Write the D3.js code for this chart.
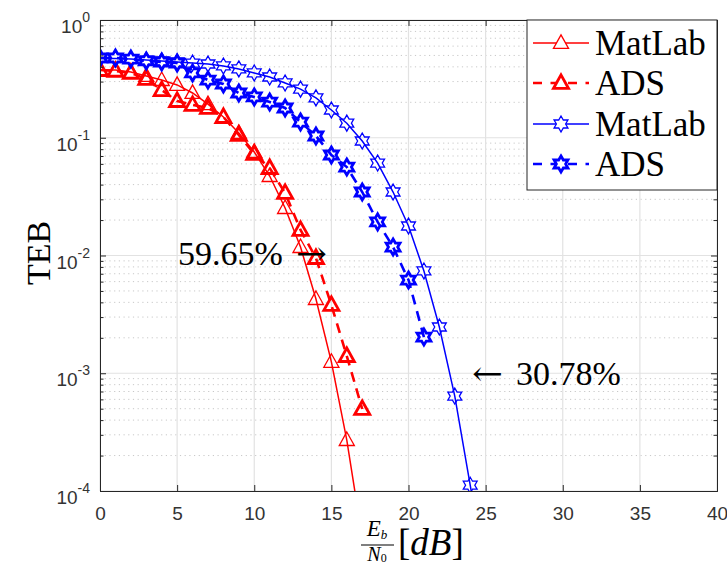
<!DOCTYPE html>
<html>
<head>
<meta charset="utf-8">
<script src="https://cdn.jsdelivr.net/npm/d3@7"></script>
<style>
  html, body { margin: 0; padding: 0; background: #fff; }
  svg { display: block; }
</style>
</head>
<body>
<svg id="chart" width="727" height="567"></svg>
<script>
// ---------------- data ----------------
const xTicks = [0, 5, 10, 15, 20, 25, 30, 35, 40];
const yTickExps = [0, -1, -2, -3, -4];

const redMatlabX = [0,1,2,3,4,5,6,7,8,9,10,11,12,13,14,15,16,17];
const redMatlabY = [0.376,0.376,0.362,0.335,0.309,0.281,0.240,0.193,0.150,0.110,0.0757,0.0473,0.0253,0.0118,0.00427,0.00125,0.000271,0.00004];

const redAdsX = [0,1,2,3,4,5,6,7,8,9,10,11,12,13,14,15,16,17];
const redAdsY = [0.376,0.369,0.355,0.316,0.254,0.205,0.190,0.179,0.150,0.1055,0.0728,0.0553,0.034,0.0165,0.00952,0.0038,0.0014,0.000497];

const blueMatlabX = [0,1,2,3,4,5,6,7,8,9,10,11,12,13,14,15,16,17,18,19,20,21,22,23,24,25];
const blueMatlabY = [0.470,0.470,0.466,0.457,0.449,0.440,0.431,0.423,0.407,0.384,0.355,0.328,0.292,0.259,0.218,0.172,0.133,0.0938,0.061,0.0346,0.0178,0.00739,0.00247,0.00064,0.000112,0.00002];

const blueAdsX = [0,1,2,3,4,5,6,7,8,9,10,11,12,13,14,15,16,17,18,19,20,21];
const blueAdsY = [0.476,0.476,0.466,0.449,0.440,0.431,0.355,0.309,0.286,0.240,0.222,0.201,0.179,0.136,0.1035,0.0714,0.0564,0.0346,0.0193,0.0118,0.00619,0.00203];

const seriesLabels = ["MatLab", "ADS", "MatLab", "ADS"];
const annotationTexts = ["59.65%", "30.78%"];
const arrowGlyphs = ["\u2192", "\u2190"];
const xLabelParts = ["E", "b", "N", "0", "[dB]"];
const yLabelText = "TEB";

// ---------------- layout ----------------
const svg = d3.select("#chart");
const M = { left: 100, right: 717, top: 20, bottom: 491 };
const x = d3.scaleLinear().domain([0, 40]).range([M.left, M.right]);
const y = d3.scaleLog().domain([1e-4, 1]).range([M.bottom, M.top]);

const axisColor = "#262626";
const tickTextColor = "#333333";
const serif = "'Liberation Serif', 'DejaVu Serif', serif";
const sans = "'Liberation Sans', Arial, sans-serif";

// grid
const grid = svg.append("g");
const minorY = [];
for (let e = -4; e < 0; e++) for (let k = 2; k <= 9; k++) minorY.push(k * Math.pow(10, e));
grid.selectAll(".minor").data(minorY).enter().append("line")
  .attr("x1", M.left).attr("x2", M.right)
  .attr("y1", d => y(d)).attr("y2", d => y(d))
  .attr("stroke", "#c8c8c8").attr("stroke-width", 1).attr("stroke-dasharray", "1.2,3.5");
grid.selectAll(".majY").data(yTickExps.map(e => Math.pow(10, e))).enter().append("line")
  .attr("x1", M.left).attr("x2", M.right)
  .attr("y1", d => y(d)).attr("y2", d => y(d))
  .attr("stroke", "#e2e2e2").attr("stroke-width", 1.2);
grid.selectAll(".majX").data(xTicks).enter().append("line")
  .attr("x1", d => x(d)).attr("x2", d => x(d))
  .attr("y1", M.top).attr("y2", M.bottom)
  .attr("stroke", "#e2e2e2").attr("stroke-width", 1.2);

// ---------------- markers ----------------
function triPath(s) {
  return `M0,${-s*0.62}L${s*0.58},${s*0.42}L${-s*0.58},${s*0.42}Z`;
}
function hexPath(R) {
  const r = R / Math.sqrt(3);
  const pts = [];
  for (let k = 0; k < 12; k++) {
    const a = (-90 + k * 30) * Math.PI / 180;
    const rr = k % 2 === 0 ? R : r;
    pts.push([rr * Math.cos(a), rr * Math.sin(a)]);
  }
  return "M" + pts.map(p => p[0].toFixed(2) + "," + p[1].toFixed(2)).join("L") + "Z";
}

const series = [
  { xs: redMatlabX, ys: redMatlabY, color: "#ff0000", dash: null, lw: 1.5, marker: triPath(13), mw: 1.3 },
  { xs: redAdsX, ys: redAdsY, color: "#ff0000", dash: "10,7", lw: 2.6, marker: triPath(13), mw: 2.8 },
  { xs: blueMatlabX, ys: blueMatlabY, color: "#0000ff", dash: null, lw: 1.5, marker: hexPath(8), mw: 1.3 },
  { xs: blueAdsX, ys: blueAdsY, color: "#0000ff", dash: "10,7", lw: 2.6, marker: hexPath(8), mw: 2.8 }
];

svg.append("clipPath").attr("id", "plotClip").append("rect")
  .attr("x", M.left).attr("y", M.top).attr("width", M.right - M.left).attr("height", M.bottom - M.top);

const plot = svg.append("g").attr("clip-path", "url(#plotClip)");
const line = d3.line().x(d => x(d[0])).y(d => y(d[1]));
series.forEach(s => {
  const pts = s.xs.map((v, i) => [v, s.ys[i]]);
  const g = plot.append("g");
  g.append("path").datum(pts).attr("d", line)
    .attr("fill", "none").attr("stroke", s.color).attr("stroke-width", s.lw)
    .attr("stroke-dasharray", s.dash);
  g.selectAll("path.m").data(pts).enter().append("path").attr("class", "m")
    .attr("d", s.marker)
    .attr("transform", d => `translate(${x(d[0])},${y(d[1])})`)
    .attr("fill", "none").attr("stroke", s.color).attr("stroke-width", s.mw)
    .attr("stroke-linejoin", "miter");
});

// ---------------- axes ----------------
const xAxisB = d3.axisBottom(x).tickValues(xTicks).tickSize(-6).tickPadding(16).tickFormat(d3.format("d"));
const gxb = svg.append("g").attr("transform", `translate(0,${M.bottom})`).call(xAxisB);
gxb.selectAll("text").attr("font-family", sans).attr("font-size", 19).attr("fill", tickTextColor);
const xAxisT = d3.axisTop(x).tickValues(xTicks).tickSize(-6).tickFormat("");
const gxt = svg.append("g").attr("transform", `translate(0,${M.top})`).call(xAxisT);

const yAxisL = d3.axisLeft(y).tickValues(yTickExps.map(e => Math.pow(10, e))).tickSize(-6).tickFormat("");
const gyl = svg.append("g").attr("transform", `translate(${M.left},0)`).call(yAxisL);
const yAxisR = d3.axisRight(y).tickValues(yTickExps.map(e => Math.pow(10, e))).tickSize(-6).tickFormat("");
const gyr = svg.append("g").attr("transform", `translate(${M.right},0)`).call(yAxisR);
const yMinL = d3.axisLeft(y).tickValues(minorY).tickSize(-3.5).tickFormat("");
const gyml = svg.append("g").attr("transform", `translate(${M.left},0)`).call(yMinL);
const yMinR = d3.axisRight(y).tickValues(minorY).tickSize(-3.5).tickFormat("");
const gymr = svg.append("g").attr("transform", `translate(${M.right},0)`).call(yMinR);

[gxb, gxt, gyl, gyr, gyml, gymr].forEach(g => {
  g.selectAll("path.domain").attr("stroke", axisColor).attr("stroke-width", 1);
  g.selectAll(".tick line").attr("stroke", axisColor).attr("stroke-width", 1);
});
gyml.select("path.domain").remove();
gymr.select("path.domain").remove();

// y tick labels with superscripts
const yl = svg.append("g");
yTickExps.forEach(e => {
  const t = yl.append("text")
    .attr("x", 90).attr("y", y(Math.pow(10, e)) + 13)
    .attr("text-anchor", "end").attr("font-family", sans).attr("fill", tickTextColor);
  t.append("tspan").attr("font-size", 19).text("10");
  t.append("tspan").attr("font-size", 14).attr("dy", -11).text(String(e));
});

// y label
svg.append("text")
  .attr("transform", "translate(50,253) rotate(-90)")
  .attr("text-anchor", "middle")
  .attr("font-family", serif).attr("font-size", 34).attr("fill", "#000")
  .text(yLabelText);

// x label: fraction E_b / N_0 [dB]
const xl = svg.append("g").attr("font-family", serif).attr("fill", "#000");
const fracX = 377;
const tE = xl.append("text").attr("x", fracX).attr("y", 536).attr("text-anchor", "middle").attr("font-style", "italic").attr("font-size", 23);
tE.append("tspan").text(xLabelParts[0]);
tE.append("tspan").attr("font-size", 13).attr("dy", 3).text(xLabelParts[1]);
xl.append("line").attr("x1", fracX - 16).attr("x2", fracX + 17).attr("y1", 545).attr("y2", 545).attr("stroke", "#000").attr("stroke-width", 1.2);
const tN = xl.append("text").attr("x", fracX).attr("y", 561).attr("text-anchor", "middle").attr("font-style", "italic").attr("font-size", 20);
tN.append("tspan").text(xLabelParts[2]);
tN.append("tspan").attr("font-size", 12).attr("dy", 1).attr("font-style", "normal").text(xLabelParts[3]);
const tdb = xl.append("text").attr("x", 398).attr("y", 555).attr("font-size", 37);
tdb.append("tspan").text("[");
tdb.append("tspan").attr("font-style", "italic").text("dB");
tdb.append("tspan").text("]");

// annotations
const ann = svg.append("g").attr("font-family", serif).attr("font-size", 34).attr("fill", "#000");
ann.append("text").attr("x", 178).attr("y", 265).text(annotationTexts[0]);
ann.append("text").attr("x", 296).attr("y", 265).attr("textLength", 31).attr("lengthAdjust", "spacingAndGlyphs")
  .attr("font-family", "'DejaVu Serif', serif").text(arrowGlyphs[0]);
ann.append("text").attr("x", 472).attr("y", 385).attr("textLength", 31).attr("lengthAdjust", "spacingAndGlyphs")
  .attr("font-family", "'DejaVu Serif', serif").text(arrowGlyphs[1]);
ann.append("text").attr("x", 516).attr("y", 385).text(annotationTexts[1]);

// legend
const lg = svg.append("g");
lg.append("rect").attr("x", 527).attr("y", 20).attr("width", 190).attr("height", 170)
  .attr("fill", "#fff").attr("stroke", axisColor).attr("stroke-width", 1);
const rowY = [43, 83, 124, 164];
series.forEach((s, i) => {
  const yy = rowY[i];
  lg.append("line").attr("x1", 533).attr("x2", 589).attr("y1", yy).attr("y2", yy)
    .attr("stroke", s.color).attr("stroke-width", s.lw)
    .attr("stroke-dasharray", s.dash ? "9,8.5" : null);
  lg.append("path").attr("d", s.marker).attr("transform", `translate(561,${yy})`)
    .attr("fill", "#fff").attr("stroke", s.color).attr("stroke-width", s.mw);
  lg.append("text").attr("x", 595).attr("y", yy + 12)
    .attr("font-family", serif).attr("font-size", 35).attr("fill", "#000")
    .text(seriesLabels[i]);
});
</script>
</body>
</html>
